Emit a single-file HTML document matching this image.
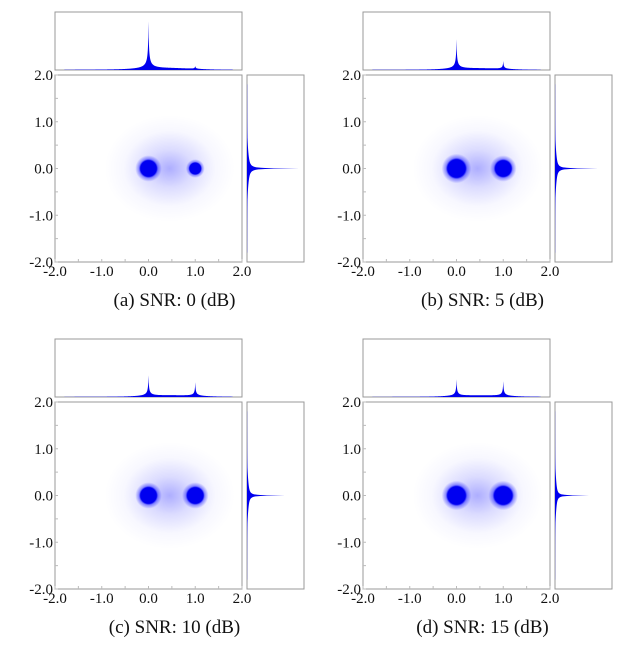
<!DOCTYPE html>
<html><head><meta charset="utf-8"><style>
html,body{margin:0;padding:0;background:#fff;}
svg{display:block;font-family:"Liberation Serif",serif;}
</style></head><body>
<svg id="fig" width="634" height="654" viewBox="0 0 634 654"></svg>
<script>
const panelLabels = ["(a) SNR: 0 (dB)","(b) SNR: 5 (dB)","(c) SNR: 10 (dB)","(d) SNR: 15 (dB)"];
const clusterCenters = [0.0, 1.0];
const blobRadiusA = [0.17, 0.19, 0.17, 0.19];   // cluster at 0
const blobRadiusB = [0.12, 0.17, 0.17, 0.19];   // cluster at 1
const topPeak0 = [0.83, 0.52, 0.36, 0.29];
const topPeak1 = [0.05, 0.14, 0.24, 0.26];
const rightPeak = [0.90, 0.74, 0.65, 0.58];
const tickValues = [-2.0, -1.0, 0.0, 1.0, 2.0];
const tickLabels = ["-2.0","-1.0","0.0","1.0","2.0"];
const panelPos = [[55,75],[363,75],[55,402],[363,402]];

const NS="http://www.w3.org/2000/svg";
const svg=document.getElementById('fig');
function mk(tag,attrs,parent){const e=document.createElementNS(NS,tag);for(const k in attrs)e.setAttribute(k,attrs[k]);(parent||svg).appendChild(e);return e;}
const defs=mk('defs',{});
const S=187, TOPH=58, RW=57, GAP=5;

panelLabels.forEach((lab,p)=>{
  const [ox,oy]=panelPos[p];
  const g=mk('g',{});
  
  
  const sx=v=>ox+(v+2)/4*S, sy=v=>oy+(2-v)/4*S;
  const hz=mk('radialGradient',{id:'hz'+p},defs);
  mk('stop',{offset:'0','stop-color':'#0000ff','stop-opacity':'0.32'},hz);
  mk('stop',{offset:'0.35','stop-color':'#0000ff','stop-opacity':'0.14'},hz);
  mk('stop',{offset:'0.7','stop-color':'#0000ff','stop-opacity':'0.03'},hz);
  mk('stop',{offset:'1','stop-color':'#0000ff','stop-opacity':'0'},hz);
  const haze=mk('ellipse',{cx:sx(0.45),cy:sy(0),rx:1.4*S/4,ry:1.15*S/4,fill:'url(#hz'+p+')'},g);
  
  
  [blobRadiusA[p],blobRadiusB[p]].forEach((r,i)=>{
    const id='bl'+p+'_'+i;
    const gr=mk('radialGradient',{id:id},defs);
    mk('stop',{offset:'0','stop-color':'#0000f0','stop-opacity':'1'},gr);
    mk('stop',{offset:'0.6','stop-color':'#0000f0','stop-opacity':'1'},gr);
    mk('stop',{offset:'0.72','stop-color':'#0000ff','stop-opacity':'0.4'},gr);
    mk('stop',{offset:'1','stop-color':'#0000ff','stop-opacity':'0'},gr);
    const c=mk('circle',{cx:sx(clusterCenters[i]),cy:sy(0),r:r*S/4/0.6,fill:'url(#'+id+')'},g);
    
    
  });
  const frame=mk('rect',{x:ox,y:oy,width:S,height:S,fill:'none',stroke:'#999','stroke-width':1},g);
  
  
  tickValues.forEach((v,i)=>{
    const tx=mk('text',{x:sx(v),y:oy+S+14,'text-anchor':'middle','font-size':15,fill:'#111'},g);
    tx.textContent=tickLabels[i];
    
    
    const ty=mk('text',{x:ox-2,y:sy(v)+5,'text-anchor':'end','font-size':15,fill:'#111'},g);
    ty.textContent=tickLabels[i];
    
    
  });
  for(let v=-2;v<=2.01;v+=0.5){
    mk('line',{x1:sx(v),x2:sx(v),y1:oy+S,y2:oy+S-3,stroke:'#bbb'},g);
    mk('line',{x1:ox,x2:ox+3,y1:sy(v),y2:sy(v),stroke:'#bbb'},g);
  }
  const ty0=oy-GAP, tTop=ty0-TOPH;
  const tf=mk('rect',{x:ox,y:tTop,width:S,height:TOPH,fill:'none',stroke:'#999'},g);
  
  
  let d='M'+sx(-1.8)+','+ty0;
  for(let v=-1.8;v<=1.8001;v+=0.005){
    const h=topPeak0[p]/(1+Math.abs(v-clusterCenters[0])/0.01)+topPeak1[p]/(1+Math.abs(v-clusterCenters[1])/0.01)+0.02*Math.exp(-(v-0.5)*(v-0.5)/0.4);
    d+=' L'+sx(v).toFixed(2)+','+(ty0-h*TOPH).toFixed(2);
  }
  d+=' L'+sx(1.8)+','+ty0+' Z';
  const th=mk('path',{d:d,fill:'#0000ee'},g);
  
  
  const rx0=ox+S+GAP;
  const rf=mk('rect',{x:rx0,y:oy,width:RW,height:S,fill:'none',stroke:'#999'},g);
  
  
  let d2='M'+rx0+','+sy(1.8);
  for(let v=1.8;v>=-1.8001;v-=0.005){
    const h=rightPeak[p]/(1+Math.abs(v)/0.005)+0.02*Math.exp(-v*v/0.2);
    d2+=' L'+(rx0+h*RW).toFixed(2)+','+sy(v).toFixed(2);
  }
  d2+=' L'+rx0+','+sy(-1.8)+' Z';
  const rh=mk('path',{d:d2,fill:'#0000ee'},g);
  
  
  const cap=mk('text',{x:ox+(S+GAP+RW)/2-5,y:oy+S+44,'text-anchor':'middle','font-size':19,fill:'#111'},g);
  cap.textContent=lab;
  
  
});
</script>
</body></html>
